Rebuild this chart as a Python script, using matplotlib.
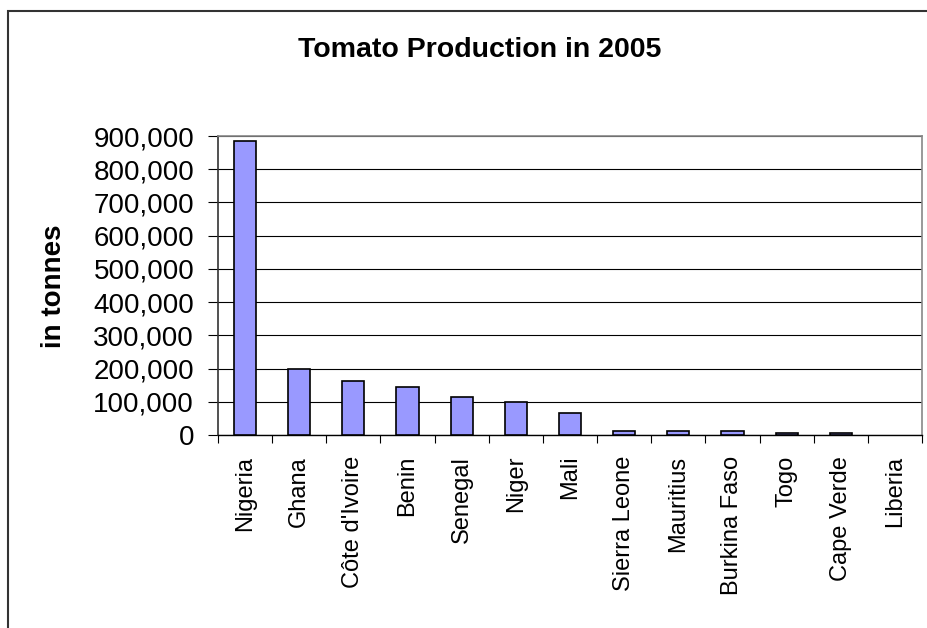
import matplotlib
matplotlib.use("Agg")
import matplotlib.pyplot as plt
from matplotlib.patches import Rectangle
import numpy as np

countries = ["Nigeria", "Ghana", "Côte d'Ivoire", "Benin", "Senegal", "Niger", "Mali",
             "Sierra Leone", "Mauritius", "Burkina Faso", "Togo", "Cape Verde", "Liberia"]
tonnes = [886000, 200000, 164000, 143000, 113000, 100000, 65000,
          12000, 12000, 12000, 7000, 6000, 0]
yticks = [0, 100000, 200000, 300000, 400000, 500000, 600000, 700000, 800000, 900000]

plt.rcParams["font.family"] = ["Liberation Sans", "DejaVu Sans"]

W, H = 927, 628
fig = plt.figure(figsize=(W / 100, H / 100), dpi=100)
ax = fig.add_axes([218 / W, 1 - 435 / H, (922 - 218) / W, (435 - 136) / H])

x = np.arange(len(countries))
# zero-height bars leave no visible mark in the original
edges = ["black" if v > 0 else "none" for v in tonnes]
ax.bar(x, tonnes, width=0.41, color="#9999FF", edgecolor=edges, linewidth=1.2, zorder=3)

ax.set_xlim(-0.5, len(countries) - 0.5)
ax.set_ylim(0, 900000)
ax.set_yticks(yticks)
ax.set_yticklabels([f"{v:,}" for v in yticks], fontsize=20)
ax.tick_params(axis="y", direction="out", length=7.2, width=0.8, pad=10)

ax.set_xticks(x)
ax.set_xticklabels(countries, rotation=90, fontsize=17)
ax.tick_params(axis="x", which="major", length=0, pad=15)
ax.set_xticks(np.arange(-0.5, len(countries)), minor=True)
ax.tick_params(axis="x", which="minor", direction="out", length=5.8, width=0.8)

ax.set_axisbelow(True)
ax.yaxis.grid(True, color="black", linewidth=0.8)
for side in ["top", "right"]:
    ax.spines[side].set_color("#888888")
    ax.spines[side].set_linewidth(1.2)
ax.spines["left"].set_color("#333333")
ax.spines["left"].set_linewidth(1.2)
ax.spines["bottom"].set_color("black")
ax.spines["bottom"].set_linewidth(1.0)

fig.text(480 / W, 1 - 50 / H, "Tomato Production in 2005", ha="center", va="center",
         fontsize=20.5, fontweight="bold")
fig.text(54 / W, 1 - 286 / H, "in tonnes", ha="center", va="center", rotation=90,
         fontsize=20, fontweight="bold")

fig.add_artist(Rectangle((8.3 / W, -0.1), 1.2, 1 - 10.7 / H + 0.1, transform=fig.transFigure,
                         fill=False, edgecolor="#333333", linewidth=1.5))

fig.savefig("out.png", dpi=100, facecolor="white")
